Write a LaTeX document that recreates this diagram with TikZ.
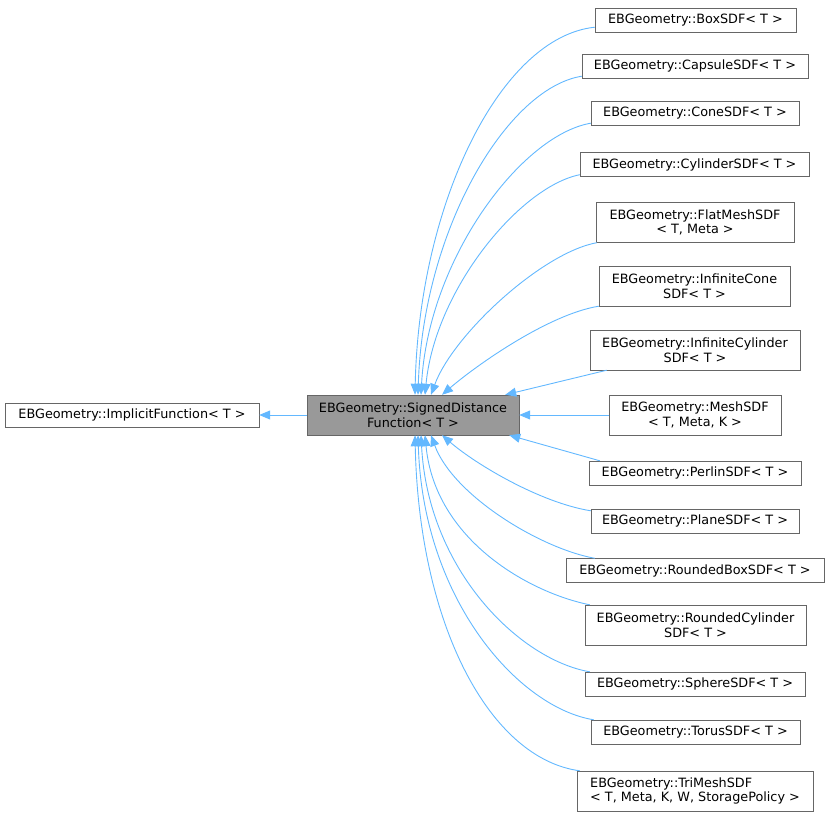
\documentclass[tikz,border=0pt]{standalone}
\usepackage{fontspec}
\setmainfont{DejaVu Sans}
\usetikzlibrary{arrows.meta}
\definecolor{inhblue}{HTML}{63B8FF}
\definecolor{boxline}{HTML}{666666}
\definecolor{basegray}{HTML}{999999}
\tikzset{
  cls/.style={draw=boxline, fill=white, rectangle, inner sep=0pt, align=center,
    minimum height=24pt, font=\fontsize{12.8}{14.5}\selectfont},
  twoline/.style={minimum height=40pt},
  inherit/.style={draw=inhblue, line width=0.9pt, {Triangle[length=11pt,width=9pt]}-}
}
\begin{document}
\begin{tikzpicture}[x=1pt,y=-1pt]
%% The picture is laid out in pixel units, y pointing down, so the numbers can be read off the screen shot.
\useasboundingbox (0,0) rectangle (829,818);
%% The two base classes on the left.
\node [cls, minimum width=254pt] (impl) at (132,415) {EBGeometry::ImplicitFunction< T >};
\node [cls, twoline, fill=basegray, minimum width=212pt] (sdf) at (413,415) {EBGeometry::SignedDistance\\Function< T >};
%% The derived classes, one column on the right.
\node [cls, minimum width=201pt] (box) at (695.5,20) {EBGeometry::BoxSDF< T >};
\node [cls, minimum width=226pt] (capsule) at (695,66) {EBGeometry::CapsuleSDF< T >};
\node [cls, minimum width=208pt] (cone) at (695,113) {EBGeometry::ConeSDF< T >};
\node [cls, minimum width=229pt] (cylinder) at (694.5,164.5) {EBGeometry::CylinderSDF< T >};
\node [cls, twoline, minimum width=198pt] (flatmesh) at (695,222.5) {EBGeometry::FlatMeshSDF\\< T, Meta >};
\node [cls, twoline, minimum width=191pt] (infcone) at (694.5,286) {EBGeometry::InfiniteCone\\SDF< T >};
\node [cls, twoline, minimum width=210pt] (infcyl) at (695,350) {EBGeometry::InfiniteCylinder\\SDF< T >};
\node [cls, twoline, minimum width=172pt] (mesh) at (695,415) {EBGeometry::MeshSDF\\< T, Meta, K >};
\node [cls, minimum width=212pt] (perlin) at (695,473) {EBGeometry::PerlinSDF< T >};
\node [cls, minimum width=208pt] (plane) at (695,521) {EBGeometry::PlaneSDF< T >};
\node [cls, minimum width=258pt] (roundbox) at (695,570.5) {EBGeometry::RoundedBoxSDF< T >};
\node [cls, twoline, minimum width=221pt] (roundcyl) at (695.5,625) {EBGeometry::RoundedCylinder\\SDF< T >};
\node [cls, minimum width=220pt] (sphere) at (695,684) {EBGeometry::SphereSDF< T >};
\node [cls, minimum width=209pt] (torus) at (695.5,732) {EBGeometry::TorusSDF< T >};
\node [cls, twoline, minimum width=236pt, align=left] (trimesh) at (695,791) {EBGeometry::TriMeshSDF\\< T, Meta, K, W, StoragePolicy >};
%% Inheritance arrows, the tip always sits on the base class.
\draw [inherit] (impl) -- (sdf);
\draw [inherit] ([xshift=2pt]sdf.north) .. controls +(4,-190) and +(-95,10) .. ([yshift=5pt]box.south west);
\draw [inherit] ([xshift=5pt]sdf.north) .. controls +(5,-165) and +(-75,12) .. ([yshift=2pt]capsule.south west);
\draw [inherit] ([xshift=8pt]sdf.north) .. controls +(7,-135) and +(-70,12) .. ([yshift=2pt]cone.south west);
\draw [inherit] ([xshift=12pt]sdf.north) .. controls +(10,-105) and +(-60,12) .. ([yshift=2pt]cylinder.south west);
\draw [inherit] ([xshift=18pt]sdf.north) .. controls +(22,-60) and +(-55,10) .. ([xshift=1pt]flatmesh.south west);
\draw [inherit] ([xshift=29pt]sdf.north) .. controls +(35,-30) and +(-50,8) .. (infcone.south west);
\draw [inherit] ([xshift=-14pt]sdf.north east) -- ([xshift=17pt]infcyl.south west);
\draw [inherit] (sdf) -- (mesh);
\draw [inherit] ([xshift=-10pt]sdf.south east) -- ([xshift=11pt]perlin.north west);
\draw [inherit] ([xshift=29pt]sdf.south) .. controls +(35,30) and +(-50,-8) .. ([yshift=-2pt]plane.north west);
\draw [inherit] ([xshift=18pt]sdf.south) .. controls +(22,60) and +(-55,-10) .. ([xshift=29pt]roundbox.north west);
\draw [inherit] ([xshift=12pt]sdf.south) .. controls +(10,105) and +(-60,-12) .. ([xshift=5pt]roundcyl.north west);
\draw [inherit] ([xshift=8pt]sdf.south) .. controls +(7,135) and +(-70,-12) .. ([xshift=5pt]sphere.north west);
\draw [inherit] ([xshift=5pt]sdf.south) .. controls +(5,165) and +(-75,-12) .. ([xshift=3pt]torus.north west);
\draw [inherit] ([xshift=2pt]sdf.south) .. controls +(4,190) and +(-90,-12) .. ([xshift=3pt]trimesh.north west);
\end{tikzpicture}
\end{document}
